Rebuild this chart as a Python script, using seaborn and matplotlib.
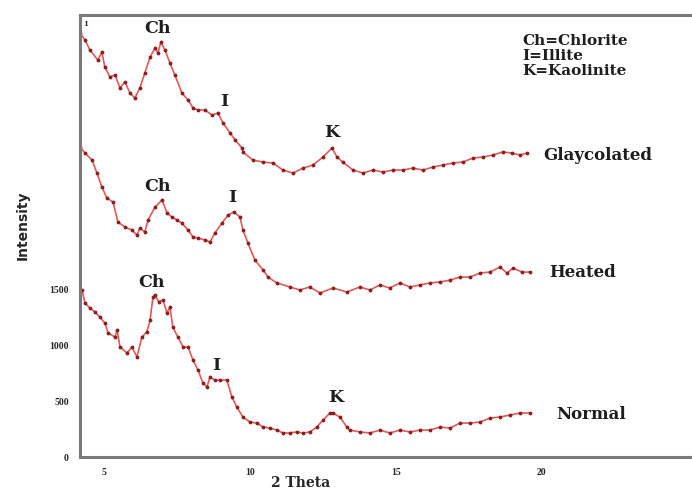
import matplotlib
matplotlib.use("Agg")
import matplotlib.pyplot as plt
from matplotlib.ticker import FixedLocator
import pandas as pd
import seaborn as sns

# 2-theta positions and intensities
normal_x = [4.25, 4.35, 4.52, 4.69, 4.86, 5.03, 5.14, 5.38, 5.45, 5.55, 5.79, 5.96, 6.13, 6.30,
            6.47, 6.58, 6.68, 6.75, 6.88, 7.02, 7.16, 7.26, 7.36, 7.53, 7.71, 7.88, 8.05, 8.22,
            8.39, 8.53, 8.63, 8.80, 8.97, 9.21, 9.38, 9.55, 9.76, 10.0, 10.24, 10.45, 10.68,
            10.92, 11.13, 11.37, 11.61, 11.82, 12.05, 12.29, 12.50, 12.74, 12.84, 13.08, 13.32,
            13.42, 13.77, 14.11, 14.45, 14.79, 15.14, 15.48, 15.82, 16.16, 16.51, 16.85, 17.19,
            17.53, 17.88, 18.22, 18.56, 18.90, 19.25, 19.59]
normal_y = [1500, 1383, 1338, 1302, 1257, 1203, 1114, 1078, 1140, 988, 934, 988, 898, 1078,
            1123, 1230, 1437, 1455, 1392, 1410, 1293, 1347, 1167, 1078, 988, 988, 871, 781,
            665, 629, 718, 691, 691, 691, 539, 449, 359, 314, 305, 269, 260,
            242, 216, 216, 225, 216, 225, 269, 332, 395, 395, 359, 269,
            242, 225, 216, 242, 216, 242, 225, 242, 242, 269, 260, 305,
            305, 314, 350, 359, 377, 395, 395]

heated_x = [4.18, 4.35, 4.59, 4.76, 4.93, 5.10, 5.31, 5.48, 5.72, 5.96, 6.13, 6.23, 6.40, 6.51,
            6.75, 6.99, 7.16, 7.33, 7.50, 7.67, 7.88, 8.05, 8.22, 8.46, 8.63, 8.80, 9.04, 9.25,
            9.45, 9.66, 9.76, 9.93, 10.17, 10.45, 10.62, 10.92, 11.37, 11.71, 12.05, 12.40,
            12.84, 13.32, 13.77, 14.11, 14.45, 14.79, 15.14, 15.48, 15.82, 16.16, 16.51, 16.85,
            17.19, 17.53, 17.88, 18.22, 18.56, 18.80, 19.01, 19.32, 19.59]
heated_y = [1534, 1480, 1417, 1300, 1175, 1076, 1040, 860, 815, 788, 744, 806, 771, 878,
            995, 1058, 941, 905, 878, 851, 788, 726, 717, 699, 681, 762, 851, 923,
            950, 905, 788, 672, 519, 429, 366, 313, 277, 250, 277, 223,
            268, 232, 277, 250, 295, 268, 313, 277, 295, 313, 322, 339,
            366, 366, 402, 411, 456, 402, 447, 411, 411]

glycol_x = [4.18, 4.35, 4.52, 4.79, 4.93, 5.03, 5.21, 5.38, 5.55, 5.72, 5.89, 6.06, 6.23, 6.40,
            6.58, 6.75, 6.85, 6.95, 7.09, 7.26, 7.43, 7.67, 7.88, 8.05, 8.22, 8.46, 8.70, 8.90,
            9.08, 9.32, 9.49, 9.73, 9.76, 10.10, 10.45, 10.79, 11.13, 11.47, 11.82, 12.16,
            12.50, 12.81, 12.98, 13.18, 13.53, 13.87, 14.21, 14.55, 14.90, 15.24, 15.58, 15.92,
            16.27, 16.61, 16.95, 17.29, 17.64, 17.98, 18.32, 18.66, 18.97, 19.25, 19.49]
glycol_y = [1508, 1445, 1355, 1265, 1337, 1202, 1112, 1130, 1014, 1068, 969, 924, 1014, 1148,
            1292, 1373, 1328, 1427, 1355, 1238, 1130, 969, 906, 834, 816, 816, 771, 789,
            699, 610, 547, 475, 439, 367, 349, 340, 277, 250, 295, 322,
            394, 475, 394, 349, 277, 250, 277, 259, 277, 277, 295, 277,
            304, 322, 340, 349, 385, 394, 412, 439, 430, 412, 430]

# vertical shifts used to stack the patterns
offsets = {"Normal": 0, "Heated": 1250, "Glaycolated": 2300}

# sample name -> (x start of name, y of name)
name_pos = {"Glaycolated": (20.05, 2710), "Heated": (20.25, 1660), "Normal": (20.5, 380)}

peak_labels = {
    "Glaycolated": [("Ch", 6.85, 3852), ("I", 9.11, 3197), ("K", 12.81, 2910)],
    "Heated": [("Ch", 6.85, 2425), ("I", 9.38, 2335)],
    "Normal": [("Ch", 6.64, 1563), ("I", 8.84, 826), ("K", 12.95, 539)],
}
key_lines = ["Ch=Chlorite", "I=Illite", "K=Kaolinite"]

frames = []
for name, xs, ys in [("Normal", normal_x, normal_y),
                     ("Heated", heated_x, heated_y),
                     ("Glaycolated", glycol_x, glycol_y)]:
    frames.append(pd.DataFrame({"two_theta": xs,
                                "intensity": [v + offsets[name] for v in ys],
                                "sample": name}))
df = pd.concat(frames, ignore_index=True)

sns.set_style("white")
serif = ["DejaVu Serif"]
ink = "#1e1e1e"

fig = plt.figure(figsize=(6.92, 4.90), dpi=100)
ax = fig.add_axes([0.1156, 0.0673, 0.8844, 0.902])

for name in ["Normal", "Heated", "Glaycolated"]:
    sub = df[df["sample"] == name]
    sns.lineplot(data=sub, x="two_theta", y="intensity", ax=ax, color="#e25a5a",
                 linewidth=1.2, marker="o", markersize=2.0, markerfacecolor="#8a1c1c",
                 markeredgecolor="#8a1c1c", legend=False)
    nx, ny = name_pos[name]
    ax.text(nx, ny, name, fontsize=12, fontweight="bold", family=serif,
            va="center", ha="left", color=ink)
    for lab, px, py in peak_labels[name]:
        ax.text(px, py, lab, fontsize=12.5, fontweight="bold", family=serif,
                ha="center", va="center", color=ink)

ax.text(19.32, 3800, "\n".join(key_lines), fontsize=11, fontweight="bold", family=serif,
        ha="left", va="top", linespacing=1.1, color=ink)
ax.text(4.28, 3925, "1", fontsize=5, fontweight="bold", family=serif, va="top")

ax.set_xlim(4.18, 25.14)
ax.set_ylim(0, 3969)
ax.set_xticks([5, 10, 15, 20])
ax.xaxis.set_minor_locator(FixedLocator(range(5, 21)))
ax.set_yticks([0, 500, 1000, 1500])
ax.tick_params(axis="both", which="major", direction="out", length=5, width=1.5,
               color="#666666", labelsize=7, pad=3)
ax.tick_params(axis="x", which="minor", direction="out", length=3, width=1.2,
               color="#666666")
for lab in ax.get_xticklabels() + ax.get_yticklabels():
    lab.set_fontweight("bold")
    lab.set_family(["Liberation Serif", "DejaVu Serif"])

for side in ["left", "bottom", "top"]:
    ax.spines[side].set_color("#7a7a7a")
    ax.spines[side].set_linewidth(2.2)
ax.spines["right"].set_visible(False)

ax.set_xlabel("2 Theta", fontsize=10, fontweight="bold", family=serif)
ax.xaxis.set_label_coords(0.36, -0.042)
ax.set_ylabel("Intensity", fontsize=10, fontweight="bold", family=["DejaVu Sans"])
ax.yaxis.set_label_coords(-0.082, 0.525)

fig.savefig("out.png", dpi=100)
